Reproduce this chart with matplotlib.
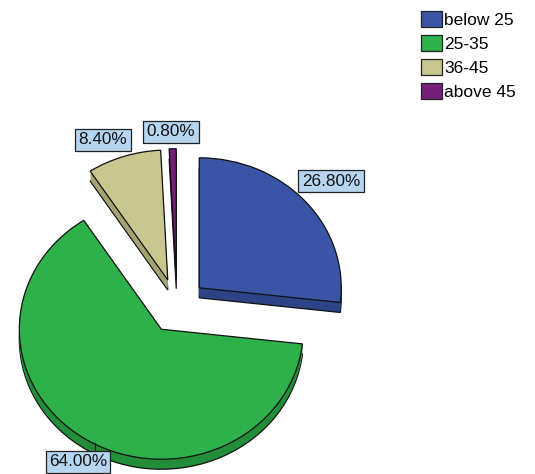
import matplotlib
matplotlib.use("Agg")
import matplotlib.pyplot as plt
import numpy as np

plt.rcParams['font.family'] = ['Liberation Sans', 'DejaVu Sans']

categories = ["below 25", "25-35", "36-45", "above 45"]
percent = [26.8, 64.0, 8.4, 0.8]
pct_labels = ["26.80%", "64.00%", "8.40%", "0.80%"]

top_colors = ["#3a55a5", "#2eb04a", "#c9c68f", "#751f7a"]
side_colors = ["#2c4388", "#238e3a", "#a6a372", "#581660"]
explode = [0.21, 0.21, 0.21, 0.21]

W, H = 535, 474
fig = plt.figure(figsize=(W / 100, H / 100), dpi=100)
ax = fig.add_axes([0, 0, 1, 1])

rx, ry = 142.0, 130.0
cx_px, cy_px = 177.0, 306.0
depth = 10.0 / ry

def draw(center, colors, lw, ec):
    w, _ = ax.pie(percent, explode=explode, colors=colors, startangle=90,
                  counterclock=False, center=center, radius=1.0,
                  wedgeprops=dict(edgecolor=ec, linewidth=lw))
    return w

draw((0, -depth), side_colors, 0.9, "#111111")
for k in np.linspace(depth, 0, 8)[1:-1]:
    draw((0, -k), side_colors, 0, "none")
wedges = draw((0, 0), top_colors, 0.9, "#111111")

x0 = -cx_px / rx
y0 = -(H - cy_px) / ry
ax.set_aspect('auto')
ax.set_xlim(x0, x0 + W / rx)
ax.set_ylim(y0, y0 + H / ry)
ax.axis('off')

# percentage labels (pixel positions of box centers)
label_pos = [(331, 181), (78, 462), (103, 140), (171, 132)]
for txt, (px, py) in zip(pct_labels, label_pos):
    fig.text(px / W, 1 - py / H, txt, fontsize=12.3, ha='center', va='center',
             color='#111111',
             bbox=dict(boxstyle='square,pad=0.2', fc='#b5d5f1', ec='#222222', lw=0.9))

# small leader line for 64.00%
fig.add_artist(plt.Line2D([95 / W, 95 / W], [1 - 443 / H, 1 - 450 / H],
                          color='#222222', lw=0.8))

leg = fig.legend(wedges, categories, loc='upper left',
                 bbox_to_anchor=(421 / W, 1 - 11 / H), frameon=False,
                 fontsize=12.5, handlelength=1.2, handleheight=1.05,
                 handletextpad=0.15, labelspacing=0.4, borderaxespad=0,
                 borderpad=0)
for h in leg.legend_handles:
    h.set_edgecolor('#222222')
    h.set_linewidth(0.9)

fig.savefig("out.png", dpi=100)
